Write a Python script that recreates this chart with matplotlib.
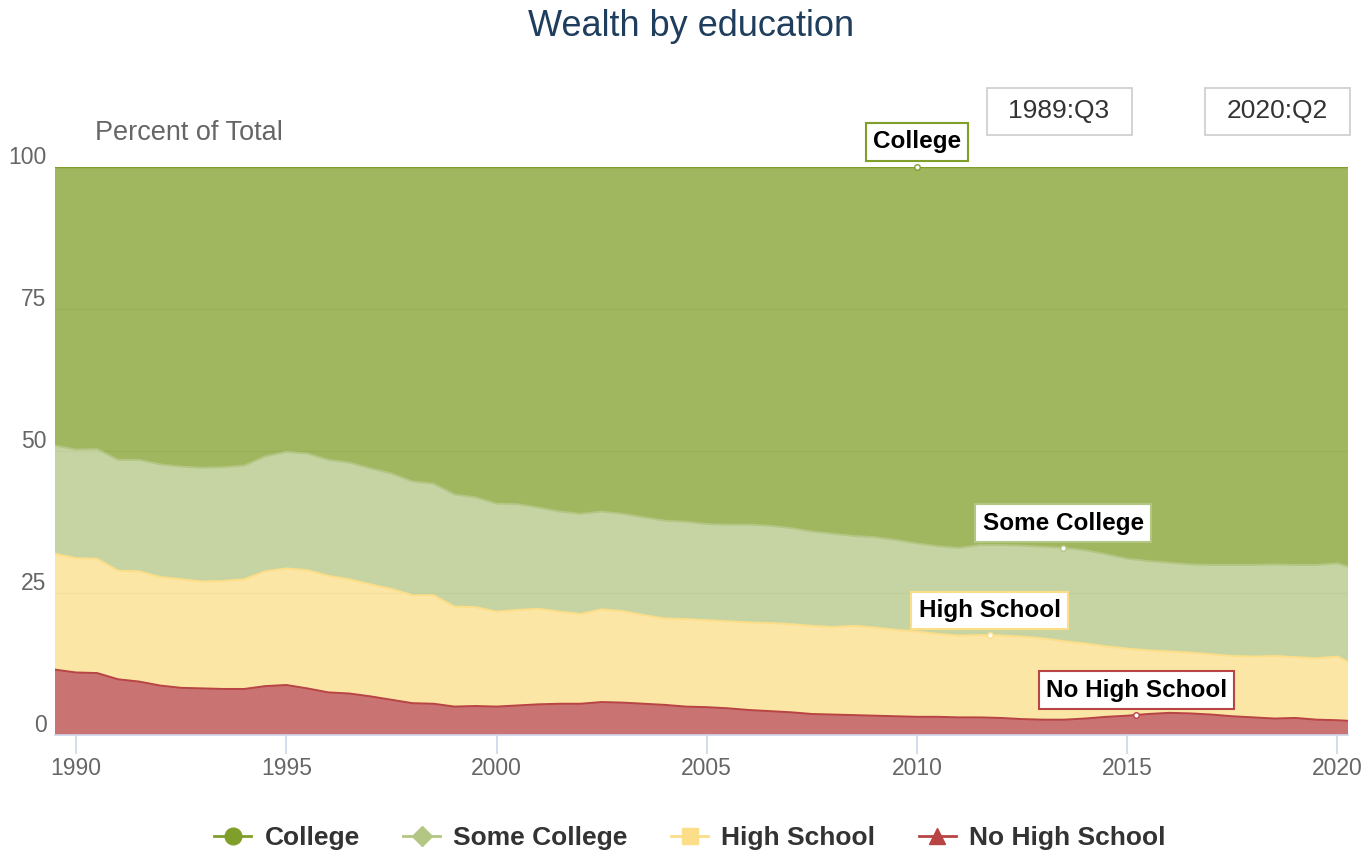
import matplotlib
matplotlib.use("Agg")
import matplotlib.pyplot as plt
import matplotlib.transforms as mtransforms
from matplotlib.lines import Line2D
from matplotlib.patches import Rectangle
import numpy as np

plt.rcParams['font.family'] = ['Liberation Sans', 'DejaVu Sans']

# ---- data (percent of total wealth) ----
quarters = ["1989:Q3", "1990:Q1", "1990:Q3", "1991:Q1", "1991:Q3", "1992:Q1", "1992:Q3",
            "1993:Q1", "1993:Q3", "1994:Q1", "1994:Q3", "1995:Q1", "1995:Q3", "1996:Q1",
            "1996:Q3", "1997:Q1", "1997:Q3", "1998:Q1", "1998:Q3", "1999:Q1", "1999:Q3",
            "2000:Q1", "2000:Q3", "2001:Q1", "2001:Q3", "2002:Q1", "2002:Q3", "2003:Q1",
            "2003:Q3", "2004:Q1", "2004:Q3", "2005:Q1", "2005:Q3", "2006:Q1", "2006:Q3",
            "2007:Q1", "2007:Q3", "2008:Q1", "2008:Q3", "2009:Q1", "2009:Q3", "2010:Q1",
            "2010:Q3", "2011:Q1", "2011:Q3", "2012:Q1", "2012:Q3", "2013:Q1", "2013:Q3",
            "2014:Q1", "2014:Q3", "2015:Q1", "2015:Q3", "2016:Q1", "2016:Q3", "2017:Q1",
            "2017:Q3", "2018:Q1", "2018:Q3", "2019:Q1", "2019:Q3", "2020:Q1", "2020:Q2"]

no_high_school = [11.5, 11.0, 10.9, 9.8, 9.4, 8.7, 8.3, 8.2, 8.1, 8.1, 8.6, 8.8, 8.2, 7.5,
                  7.3, 6.8, 6.2, 5.6, 5.5, 5.0, 5.1, 5.0, 5.2, 5.4, 5.5, 5.5, 5.8, 5.7,
                  5.5, 5.3, 5.0, 4.9, 4.7, 4.4, 4.2, 4.0, 3.7, 3.6, 3.5, 3.4, 3.3, 3.2,
                  3.2, 3.1, 3.1, 3.0, 2.8, 2.7, 2.7, 2.9, 3.2, 3.4, 3.7, 3.9, 3.8, 3.6,
                  3.3, 3.1, 2.9, 3.0, 2.7, 2.6, 2.5]
high_school = [20.4, 20.1, 20.1, 19.1, 19.4, 19.1, 19.1, 18.8, 19.0, 19.3, 20.2, 20.5, 20.8, 20.5,
               20.1, 19.7, 19.5, 19.0, 19.1, 17.6, 17.4, 16.7, 16.8, 16.8, 16.2, 15.8, 16.3, 16.1,
               15.6, 15.2, 15.4, 15.3, 15.3, 15.4, 15.5, 15.5, 15.5, 15.4, 15.7, 15.5, 15.2, 15.0,
               14.6, 14.4, 14.5, 14.5, 14.5, 14.3, 13.8, 13.2, 12.4, 11.8, 11.2, 10.8, 10.7, 10.6,
               10.6, 10.7, 11.0, 10.7, 10.8, 11.2, 10.4]
some_college = [19.0, 19.1, 19.3, 19.5, 19.6, 19.8, 19.8, 20.0, 20.0, 20.0, 20.2, 20.5, 20.5, 20.4,
                20.5, 20.4, 20.3, 20.0, 19.6, 19.7, 19.3, 19.0, 18.6, 17.8, 17.6, 17.6, 17.2, 17.1,
                17.2, 17.2, 17.1, 16.9, 17.0, 17.2, 17.1, 16.9, 16.6, 16.4, 15.8, 15.9, 15.8, 15.5,
                15.4, 15.4, 15.8, 15.9, 16.0, 16.1, 16.4, 16.4, 16.2, 15.8, 15.7, 15.6, 15.5, 15.7,
                16.0, 16.1, 16.1, 16.2, 16.4, 16.4, 16.7]
college = [49.1, 49.8, 49.7, 51.6, 51.6, 52.4, 52.8, 53.0, 52.9, 52.6, 51.0, 50.2, 50.5, 51.6,
           52.1, 53.1, 54.0, 55.4, 55.8, 57.7, 58.2, 59.3, 59.4, 60.0, 60.7, 61.1, 60.7, 61.1,
           61.7, 62.3, 62.5, 62.9, 63.0, 63.0, 63.2, 63.6, 64.2, 64.6, 65.0, 65.2, 65.7, 66.3,
           66.8, 67.1, 66.6, 66.6, 66.7, 66.9, 67.1, 67.5, 68.2, 69.0, 69.4, 69.7, 70.0, 70.1,
           70.1, 70.1, 70.0, 70.1, 70.1, 69.8, 70.4]

series_names = ["No High School", "High School", "Some College", "College"]
y_ticks = [0, 25, 50, 75, 100]
x_ticks = [1990, 1995, 2000, 2005, 2010, 2015, 2020]

# ---- styling ----
colors = {"College": "#809F2A", "Some College": "#B4C684",
          "High School": "#FCDE88", "No High School": "#B84444"}
label_year = {"College": 2010.0, "Some College": 2013.48,
              "High School": 2011.73, "No High School": 2015.22}

W, H = 1366, 858
fig = plt.figure(figsize=(W / 100, H / 100), dpi=100)

def fx(px):
    return px / W

def fy(py):
    return 1 - py / H

ax_l, ax_r, ax_t, ax_b = 55, 1348, 166.5, 735
ax = fig.add_axes([fx(ax_l), fy(ax_b), fx(ax_r - ax_l), (ax_b - ax_t) / H])

def q_to_year(q):
    y, qq = q.split(":Q")
    return int(y) + (int(qq) - 1) / 4.0

x = np.array([q_to_year(q) for q in quarters])
data = {"No High School": np.array(no_high_school), "High School": np.array(high_school),
        "Some College": np.array(some_college), "College": np.array(college)}

stack = [data[n] for n in series_names]
ax.stackplot(x, *stack, colors=[colors[n] for n in series_names], alpha=0.75,
             linewidth=0, zorder=2)
cum = np.cumsum(np.vstack(stack), axis=0)
tops = {}
for i, n in enumerate(series_names):
    tops[n] = cum[i]
    lw = 1.0 if n == "College" else 1.4
    ax.plot(x, cum[i], color=colors[n], lw=lw, zorder=3, solid_joinstyle='round')

ax.set_xlim(x[0], x[-1])
ax.set_ylim(0, 100)
ax.set_yticks(y_ticks)
ax.set_xticks(x_ticks)
ax.grid(axis='y', color='#e6e6e6', lw=1, zorder=0)
ax.set_axisbelow(True)
for s in ['top', 'right', 'left']:
    ax.spines[s].set_visible(False)
ax.spines['bottom'].set_color('#ccd6eb')
ax.spines['bottom'].set_linewidth(1.2)
ax.spines['bottom'].set_zorder(5)
ax.tick_params(axis='x', colors='#ccd6eb', length=14, width=1.2, labelcolor='#666666',
               labelsize=16.5, pad=2)
ax.tick_params(axis='y', length=0, labelcolor='#666666', labelsize=16.5, pad=6)
offset = mtransforms.ScaledTranslation(0, 12 / 100, fig.dpi_scale_trans)
for lbl in ax.get_yticklabels():
    lbl.set_transform(lbl.get_transform() + offset)

# data labels
for n in series_names:
    yr = label_year[n]
    yv = float(np.interp(yr, x, tops[n]))
    ax.plot([yr], [yv], marker='o', ms=4, mfc='white', mec=colors[n], mew=1, zorder=6,
            clip_on=False)
    ax.annotate(n, xy=(yr, yv), xytext=(0, 9.5), textcoords='offset points',
                ha='center', va='bottom', fontsize=17.5, fontweight='bold', color='black',
                zorder=7, annotation_clip=False,
                bbox=dict(boxstyle='square,pad=0.3', fc='white', ec=colors[n], lw=1.5))

# title and axis caption
fig.text(fx(691), fy(27), "Wealth by education", ha='center', va='center',
         fontsize=26, color='#1f3d5c')
fig.text(fx(95), fy(133), "Percent of Total", ha='left', va='center',
         fontsize=19.5, color='#666666')

# range boxes
for cx, txt in [(1059, "1989:Q3"), (1277, "2020:Q2")]:
    fig.add_artist(Rectangle((fx(cx - 72), fy(135)), fx(145), 47 / H,
                             transform=fig.transFigure, fc='white', ec='#cccccc', lw=1.2))
    fig.text(fx(cx), fy(111), txt, ha='center', va='center', fontsize=19, color='#333333')

# legend
markers = {"College": 'o', "Some College": 'D', "High School": 's', "No High School": '^'}
msizes = {"College": 12, "Some College": 10, "High School": 12, "No High School": 12}
legend_order = ["College", "Some College", "High School", "No High School"]
handles = [Line2D([0], [0], color=colors[n], lw=2, marker=markers[n], ms=msizes[n],
                  mfc=colors[n], mec=colors[n]) for n in legend_order]
leg = fig.legend(handles, legend_order, loc='center', bbox_to_anchor=(fx(690), fy(838)),
                 ncol=4, frameon=False, handlelength=1.4, handletextpad=0.5,
                 columnspacing=1.65, prop={'size': 19, 'weight': 'bold'})
for t in leg.get_texts():
    t.set_color('#333333')

fig.savefig("out.png", dpi=100)
